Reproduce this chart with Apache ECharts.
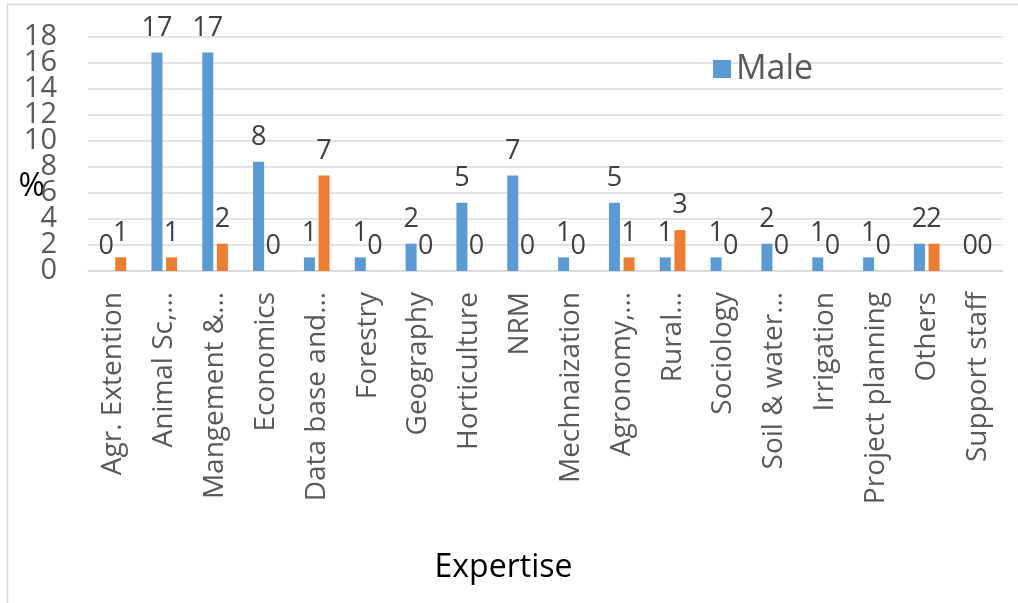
<!DOCTYPE html>
<html>
<head>
<meta charset="utf-8">
<script src="https://cdn.jsdelivr.net/npm/echarts@6/dist/echarts.min.js"></script>
<style>
html,body{margin:0;padding:0;background:#fff;}
#chart{width:1018px;height:603px;}
</style>
</head>
<body>
<div id="chart"></div>
<script>
const categories = ["Agr. Extention","Animal Sc,…","Mangement &…","Economics","Data base and…","Forestry","Geography","Horticulture","NRM","Mechnaization","Agronomy,…","Rural…","Sociology","Soil & water…","Irrigation","Project planning","Others","Support staff"];
const maleValues = [0,16.8,16.8,8.4,1.05,1.05,2.1,5.25,7.35,1.05,5.25,1.05,1.05,2.1,1.05,1.05,2.1,0];
const femaleValues = [1.05,1.05,2.1,0,7.35,0,0,0,0,0,1.05,3.15,0,0,0,0,2.1,0];
const yTicks = [0,2,4,6,8,10,12,14,16,18];
const yEndTicks = [0,18];

const FONT = "Open Sans";
const chart = echarts.init(document.getElementById('chart'), null, {renderer:'canvas'});
const labelCfg = {
  show: true,
  position: 'top',
  distance: 11,
  color: '#404040',
  fontFamily: FONT,
  fontSize: 27,
  formatter: p => String(Math.round(p.value))
};
const yLabelStyle = {margin: 31, color: '#595959', fontFamily: FONT, fontSize: 29, hideOverlap: false};
chart.setOption({
  animation: false,
  backgroundColor: '#fff',
  graphic: [{
    type: 'rect',
    shape: {x: 7.5, y: 4.5, width: 1030, height: 620},
    style: {fill: 'none', stroke: '#d9d9d9', lineWidth: 1.5},
    silent: true
  }],
  legend: {
    data: ['Male'],
    left: 708,
    top: 47,
    itemWidth: 18,
    itemHeight: 18,
    itemGap: 10,
    icon: 'rect',
    textStyle: {color: '#595959', fontFamily: FONT, fontSize: 34}
  },
  grid: {left: 88, right: 15, top: 37, bottom: 332, containLabel: false, outerBoundsMode: 'none'},
  xAxis: {
    type: 'category',
    data: categories,
    name: 'Expertise',
    nameLocation: 'middle',
    nameGap: 281,
    nameMoveOverlap: false,
    nameTextStyle: {color: '#000', fontFamily: FONT, fontSize: 32, padding: [0, 84, 0, 0]},
    axisLine: {show: true, lineStyle: {color: '#d9d9d9', width: 1.5}},
    axisTick: {show: false},
    axisLabel: {interval: 0, rotate: 90, margin: 21, color: '#595959', fontFamily: FONT, fontSize: 28, hideOverlap: false}
  },
  yAxis: [
    {
      type: 'value',
      position: 'left',
      min: 0,
      max: 18,
      interval: 2,
      name: '%',
      nameLocation: 'middle',
      nameRotate: 0,
      nameGap: 43,
      nameMoveOverlap: false,
      nameTextStyle: {color: '#000', fontFamily: FONT, fontSize: 32, align: 'right', verticalAlign: 'top', lineHeight: 66},
      axisLine: {show: false},
      axisTick: {show: false},
      splitLine: {lineStyle: {color: '#d9d9d9', width: 1.5}},
      axisLabel: Object.assign({}, yLabelStyle, {
        formatter: v => (yTicks.includes(v) && !yEndTicks.includes(v)) ? String(v) : ''
      })
    },
    {
      type: 'value',
      position: 'left',
      offset: 0,
      min: 0,
      max: 18,
      interval: 2,
      axisLine: {show: false},
      axisTick: {show: false},
      splitLine: {show: false},
      axisLabel: Object.assign({}, yLabelStyle, {
        showMinLabel: true, showMaxLabel: true,
        formatter: v => yEndTicks.includes(v) ? String(v) : ''
      })
    }
  ],
  series: [
    {name: 'Male', type: 'bar', yAxisIndex: 0, data: maleValues, barWidth: 11, barGap: '33%',
     itemStyle: {color: '#5B9BD5'}, label: labelCfg},
    {name: 'Female', type: 'bar', yAxisIndex: 0, data: femaleValues, barWidth: 11, barGap: '33%',
     itemStyle: {color: '#ED7D31'}, label: labelCfg}
  ]
});
</script>
</body>
</html>
